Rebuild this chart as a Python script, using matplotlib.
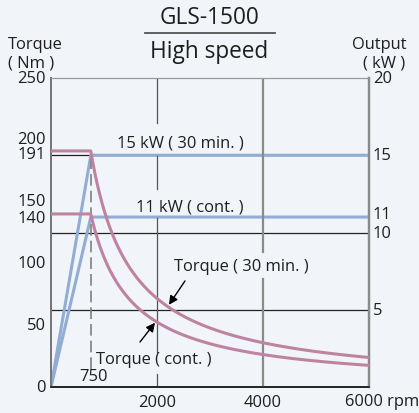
import numpy as np
import matplotlib
matplotlib.use("Agg")
import matplotlib.pyplot as plt
from matplotlib.transforms import blended_transform_factory
from matplotlib.lines import Line2D

plt.rcParams['font.family'] = ['Open Sans', 'DejaVu Sans']

# Rated data of the spindle motor
base_speed = 750            # rpm
max_speed = 6000            # rpm
torque_30min = 191          # Nm up to base speed
torque_cont = 140           # Nm up to base speed
power_30min = 15            # kW
power_cont = 11             # kW

left_ticks = [0, 50, 100, 140, 150, 191, 200, 250]
right_ticks = [5, 10, 11, 15, 20]
x_ticks = [2000, 4000]

PINK = '#bd83a1'
BLUE = '#92add3'
BG = '#f1f5f9'
INK = '#1e1e1e'

W, H = 419, 414
fig = plt.figure(figsize=(W / 100, H / 100), dpi=100, facecolor=BG)
ax = fig.add_axes([51 / W, 1 - 388 / H, 318 / W, 309 / H])
ax.set_xlim(0, max_speed)
ax.set_ylim(0, 250)
ax2 = ax.twinx()
ax2.set_ylim(0, 20)
ax.set_zorder(ax2.get_zorder() + 1)
ax.patch.set_visible(False)
ax2.patch.set_facecolor('white')

fs = 11.9

# power grid lines (kW scale)
for p in [5, 10, 15]:
    ax2.axhline(p, color='#222222', lw=0.9, zorder=1)

# vertical grid lines, interrupted behind the annotations
for y0, y1 in [(213.6, 250), (160.2, 186.9), (28.3, 136.7), (0, 10.5)]:
    ax.plot([2000, 2000], [y0, y1], color='#555555', lw=0.9, zorder=1)
for y0, y1 in [(109.2, 250), (0, 87.4)]:
    ax.plot([4000, 4000], [y0, y1], color='#8a8a8a', lw=1.6, zorder=1)

# base-speed marker
ax.plot([base_speed, base_speed], [14.6, torque_30min], color='#808080',
        lw=1.2, dashes=(7, 3), zorder=1)

# output curves (kW scale)
n = np.linspace(0, max_speed, 600)
n = np.unique(np.concatenate([n, [base_speed]]))
p30 = np.where(n < base_speed, power_30min * n / base_speed, power_30min)
pc = np.where(n < base_speed, power_cont * n / base_speed, power_cont)
ax2.plot(n, p30, color=BLUE, lw=2.2, zorder=4)
ax2.plot(n, pc, color=BLUE, lw=2.2, zorder=4)

# torque curves (Nm scale): constant torque then constant power
ns = np.linspace(1, max_speed, 1200)
ns = np.unique(np.concatenate([ns, [base_speed]]))
t30 = np.where(ns <= base_speed, torque_30min, torque_30min * base_speed / ns)
tc = np.where(ns <= base_speed, torque_cont, torque_cont * base_speed / ns)
ax.plot(ns, t30, color=PINK, lw=2.2, zorder=3)
ax.plot(ns, tc, color=PINK, lw=2.2, zorder=3)

# annotations
ax.text(2434, 198, '15 kW ( 30 min. )', ha='center', va='center', fontsize=fs, color=INK)
ax.text(2623, 146.4, '11 kW ( cont. )', ha='center', va='center', fontsize=fs, color=INK)
ax.text(3585, 97.9, 'Torque ( 30 min. )', ha='center', va='center', fontsize=fs, color=INK)
ax.text(1943, 22.7, 'Torque ( cont. )', ha='center', va='center', fontsize=fs, color=INK)
ax.text(811, 8.9, '750', ha='center', va='center', fontsize=fs, color=INK)

arrow = dict(arrowstyle='-|>', color='black', lw=1.0, mutation_scale=13, shrinkA=0, shrinkB=0)
ax.annotate('', xy=(2225, 66.5), xytext=(2528, 85.8), arrowprops=arrow, zorder=6)
ax.annotate('', xy=(1962, 52.0), xytext=(1679, 36.4), arrowprops=arrow, zorder=6)

# tick labels, set as text so the tightly spaced values sit slightly apart
ax.set_yticks([])
ax2.set_yticks([])
trL = blended_transform_factory(ax.transAxes, ax.transData)
left_shift = {0: 0.0, 50: 0.5, 100: 0.5, 140: -3.0, 150: 0.5, 191: -2.5, 200: 1.0, 250: 0.0}
for v in left_ticks:
    ax.text(-0.017, v + left_shift[v], str(v), transform=trL, ha='right', va='center',
            fontsize=fs, color=INK)
trR = blended_transform_factory(ax2.transAxes, ax2.transData)
right_shift = {5: 0.0, 10: 0.0, 11: 0.2, 15: 0.0, 20: 0.0}
for v in right_ticks:
    ax2.text(1.012, v + right_shift[v], str(v), transform=trR, ha='left', va='center',
             fontsize=fs, color=INK)
ax.set_xticks(x_ticks)
ax.set_xticklabels([str(v) for v in x_ticks], fontsize=fs, color=INK)
ax.tick_params(axis='x', length=0, pad=5)
tr = blended_transform_factory(ax.transData, fig.transFigure)
ax.text(5547, 1 - 402 / H, '6000 rpm', transform=tr, ha='left', va='center',
        fontsize=fs, color=INK)

# frame
for a in (ax, ax2):
    a.spines['left'].set_color('#777777')
    a.spines['left'].set_linewidth(1.4)
    a.spines['right'].set_color('#8a8a8a')
    a.spines['right'].set_linewidth(1.6)
    a.spines['top'].set_color('#999999')
    a.spines['top'].set_linewidth(0.8)
    a.spines['bottom'].set_color('#222222')
    a.spines['bottom'].set_linewidth(1.2)

# axis captions and title
def ftext(x, y, s, size, **kw):
    fig.text(x / W, 1 - y / H, s, fontsize=size, color=INK, va='center', **kw)

ftext(35, 45, 'Torque', fs, ha='center')
ftext(31, 63, '( Nm )', fs, ha='center')
ftext(379, 45, 'Output', fs, ha='center')
ftext(384, 63, '( kW )', fs, ha='center')
ftext(209, 18, 'GLS-1500', 16.3, ha='center')
ftext(209, 52, 'High speed', 16.3, ha='center')
fig.add_artist(Line2D([145 / W, 275 / W], [1 - 34 / H, 1 - 34 / H],
                      color='#555555', lw=1.3, transform=fig.transFigure))

fig.savefig('out.png', dpi=100, facecolor=BG)
